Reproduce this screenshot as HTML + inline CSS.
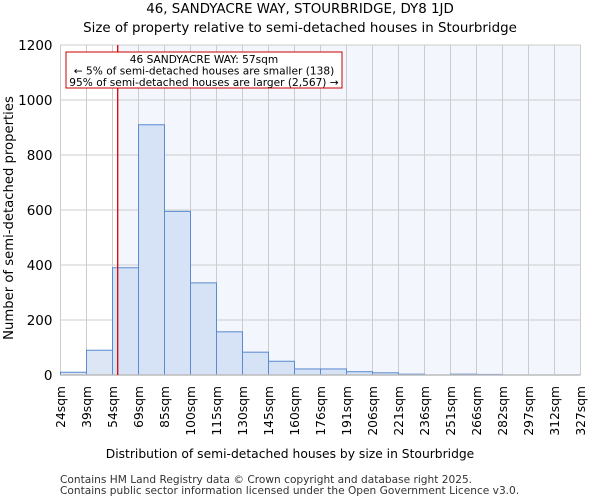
<!DOCTYPE html>
<html><head><meta charset="utf-8"><style>
body{margin:0;background:#fff;font-family:"DejaVu Sans","Liberation Sans",sans-serif}
</style></head><body>
<svg id="c" width="600" height="500" xmlns="http://www.w3.org/2000/svg" font-family="DejaVu Sans, Liberation Sans, sans-serif">
<text x="300" y="13" font-size="13.4" text-anchor="middle">46, SANDYACRE WAY, STOURBRIDGE, DY8 1JD</text>
<text x="300" y="32" font-size="13.4" text-anchor="middle">Size of property relative to semi-detached houses in Stourbridge</text>
<g id="plot"></g>
<text x="290" y="458" font-size="12.3" text-anchor="middle">Distribution of semi-detached houses by size in Stourbridge</text>
<text transform="translate(13,218) rotate(-90)" font-size="13.2" text-anchor="middle">Number of semi-detached properties</text>
<text x="60" y="483" font-size="10.6" fill="#333">Contains HM Land Registry data © Crown copyright and database right 2025.</text>
<text x="60" y="494" font-size="10.6" fill="#333">Contains public sector information licensed under the Open Government Licence v3.0.</text>
</svg>
<script>
const binLabels=["24sqm","39sqm","54sqm","69sqm","85sqm","100sqm","115sqm","130sqm","145sqm","160sqm","176sqm","191sqm","206sqm","221sqm","236sqm","251sqm","266sqm","282sqm","297sqm","312sqm","327sqm"];
const binStarts=[24,39,54,69,85,100,115,130,145,160,176,191,206,221,236,251,266,282,297,312,327];
const counts=[10,90,390,910,595,335,157,83,50,22,22,12,8,3,0,3,2,0,0,0];
const yTicks=[0,200,400,600,800,1000,1200];
const propertySize=57;
const NS="http://www.w3.org/2000/svg";
const g=document.getElementById('plot');
const L=60.5,W=26,B=375,T=45,R=L+W*counts.length;
const y=v=>B-(v/1200)*(B-T);
const xIdx=i=>L+W*i;
function xVal(v){let i=0;while(i<binStarts.length-2&&v>=binStarts[i+1])i++;return xIdx(i)+W*(v-binStarts[i])/(binStarts[i+1]-binStarts[i]);}
function el(t,a){const e=document.createElementNS(NS,t);for(const k in a)e.setAttribute(k,a[k]);g.appendChild(e);return e;}
const px=xVal(propertySize);
let e=el('rect',{x:px,y:T,width:R-px,height:B-T,fill:'#f3f6fd'});


for(let i=0;i<=counts.length;i++){e=el('line',{x1:xIdx(i),x2:xIdx(i),y1:T,y2:B,stroke:'#ccc','stroke-width':1});

}
yTicks.forEach(v=>{e=el('line',{x1:L,x2:R,y1:y(v),y2:y(v),stroke:'#ccc','stroke-width':1});


const t=el('text',{x:L-8,y:y(v)+5,'font-size':13.5,'text-anchor':'end'});t.textContent=v;

});
counts.forEach((c,i)=>{const r=el('rect',{x:xIdx(i),y:y(c),width:W,height:B-y(c),fill:xIdx(i+1)<=px?'#dde6f4':'#d6e2f5',stroke:'#5a8ad0','stroke-width':1});

});
binLabels.forEach((lb,i)=>{const t=el('text',{transform:`translate(${xIdx(i)+4.5},386) rotate(-90)`,'font-size':12.3,'text-anchor':'end'});t.textContent=lb;

});
e=el('line',{x1:L,x2:R,y1:B,y2:B,stroke:'#bbb','stroke-width':1.5});


e=el('line',{x1:px,x2:px,y1:T,y2:B,stroke:'#dd0000','stroke-width':1.3});


e=el('rect',{x:66,y:52,width:276,height:36,fill:'#fff',stroke:'#cc0000','stroke-width':1});


["46 SANDYACRE WAY: 57sqm","← 5% of semi-detached houses are smaller (138)","95% of semi-detached houses are larger (2,567) →"].forEach((s,i)=>{const t=el('text',{x:204,y:63+i*11.5,'font-size':10.6,'text-anchor':'middle'});t.textContent=s;

});
</script>
</body></html>
